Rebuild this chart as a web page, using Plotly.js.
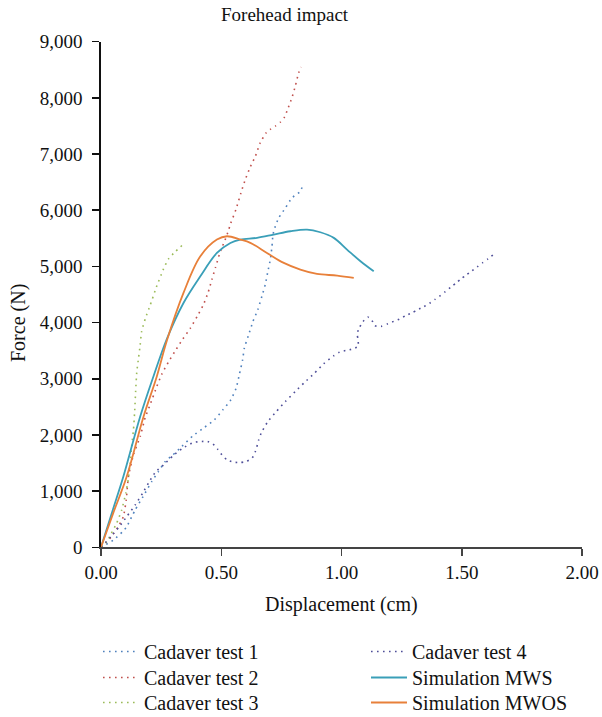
<!DOCTYPE html>
<html>
<head>
<meta charset="utf-8">
<script src="https://cdn.plot.ly/plotly-3.0.1.min.js"></script>
<style>html,body{margin:0;padding:0;background:#fff;}#chart{width:602px;height:717px;}</style>
</head>
<body>
<div id="chart"></div>
<script>
const seriesNames = ["Cadaver test 1","Cadaver test 2","Cadaver test 3","Cadaver test 4","Simulation MWS","Simulation MWOS"];

const test1X = [0, 0.052, 0.090, 0.107, 0.142, 0.183, 0.211, 0.239, 0.267, 0.299, 0.336, 0.382, 0.426, 0.471, 0.507, 0.540, 0.562, 0.575, 0.589, 0.596, 0.614, 0.632, 0.652, 0.669, 0.683, 0.694, 0.704, 0.711, 0.715, 0.725, 0.739, 0.767, 0.794, 0.825, 0.839];
const test1Y = [0, 130, 278, 367, 665, 962, 1170, 1348, 1526, 1645, 1794, 1984, 2121, 2269, 2447, 2626, 2834, 3071, 3339, 3547, 3784, 4022, 4230, 4467, 4676, 4913, 5121, 5359, 5567, 5716, 5864, 6042, 6221, 6321, 6428];

const test2X = [0, 0.024, 0.043, 0.071, 0.093, 0.105, 0.114, 0.135, 0.163, 0.183, 0.204, 0.232, 0.253, 0.281, 0.310, 0.340, 0.371, 0.400, 0.426, 0.446, 0.461, 0.476, 0.492, 0.502, 0.515, 0.527, 0.540, 0.561, 0.582, 0.600, 0.621, 0.642, 0.662, 0.687, 0.704, 0.725, 0.746, 0.764, 0.776, 0.794, 0.808, 0.822, 0.832];
const test2Y = [0, 98, 190, 362, 546, 850, 1259, 1650, 1972, 2298, 2536, 2863, 3083, 3303, 3505, 3707, 3897, 4111, 4319, 4545, 4765, 4979, 5210, 5330, 5460, 5600, 5775, 6012, 6310, 6547, 6773, 6963, 7201, 7380, 7439, 7498, 7569, 7665, 7795, 8003, 8211, 8449, 8549];

const test3X = [0, 0.024, 0.043, 0.065, 0.086, 0.103, 0.114, 0.121, 0.128, 0.135, 0.140, 0.144, 0.149, 0.156, 0.163, 0.169, 0.185, 0.204, 0.229, 0.260, 0.280, 0.308, 0.330, 0.345];
const test3Y = [0, 98, 249, 427, 665, 962, 1230, 1497, 1823, 2090, 2417, 2774, 3131, 3368, 3606, 3844, 4080, 4301, 4616, 4955, 5130, 5260, 5345, 5410];

const test4X = [0, 0.041, 0.076, 0.107, 0.142, 0.173, 0.201, 0.228, 0.260, 0.299, 0.340, 0.385, 0.413, 0.443, 0.465, 0.485, 0.503, 0.524, 0.551, 0.579, 0.604, 0.628, 0.642, 0.656, 0.666, 0.694, 0.729, 0.767, 0.808, 0.846, 0.888, 0.926, 0.968, 0.992, 1.019, 1.046, 1.069, 1.069, 1.065, 1.075, 1.089, 1.109, 1.125, 1.138, 1.165, 1.190, 1.217, 1.242, 1.266, 1.292, 1.317, 1.342, 1.366, 1.387, 1.411, 1.432, 1.454, 1.477, 1.497, 1.519, 1.542, 1.564, 1.586, 1.609, 1.630];
const test4Y = [0, 190, 367, 546, 754, 962, 1170, 1348, 1467, 1627, 1765, 1865, 1883, 1883, 1841, 1747, 1645, 1556, 1515, 1509, 1527, 1586, 1705, 1913, 2032, 2240, 2417, 2596, 2774, 2934, 3101, 3267, 3410, 3475, 3505, 3529, 3576, 3695, 3802, 3915, 4016, 4100, 4052, 3945, 3933, 3974, 4022, 4064, 4123, 4171, 4230, 4283, 4343, 4408, 4480, 4551, 4628, 4706, 4777, 4848, 4920, 4991, 5062, 5134, 5205];

const mwsX = [0, 0.050, 0.093, 0.163, 0.218, 0.274, 0.343, 0.413, 0.482, 0.538, 0.579, 0.649, 0.718, 0.787, 0.857, 0.912, 0.968, 1.023, 1.079, 1.134];
const mwsY = [0, 677, 1259, 2328, 3041, 3712, 4349, 4824, 5240, 5418, 5478, 5508, 5567, 5626, 5656, 5608, 5508, 5300, 5092, 4913];

const mwosX = [0, 0.050, 0.107, 0.177, 0.232, 0.274, 0.343, 0.413, 0.482, 0.524, 0.579, 0.621, 0.690, 0.760, 0.829, 0.898, 0.982, 1.051];
const mwosY = [0, 600, 1259, 2328, 3041, 3680, 4528, 5180, 5478, 5537, 5478, 5419, 5240, 5062, 4943, 4866, 4836, 4795];

const xTickVals = [0, 0.5, 1, 1.5, 2];
const xTickText = ["0.00", "0.50", "1.00", "1.50", "2.00"];
const yTickVals = [0, 1000, 2000, 3000, 4000, 5000, 6000, 7000, 8000, 9000];
const yTickText = ["0", "1,000", "2,000", "3,000", "4,000", "5,000", "6,000", "7,000", "8,000", "9,000"];

const FONT = '"Liberation Serif", "DejaVu Serif", serif';
const DOT = "1.6px,4.4px";
const W = 602, H = 717;

function dotted(x, y, name, color, leg) {
  return {x: x, y: y, name: name, type: 'scatter', mode: 'lines', legend: leg,
    line: {color: color, width: 1.6, dash: DOT, shape: 'spline', smoothing: 0.5}};
}
function solid(x, y, name, color, leg) {
  return {x: x, y: y, name: name, type: 'scatter', mode: 'lines', legend: leg,
    line: {color: color, width: 1.8, shape: 'spline', smoothing: 1}};
}

const data = [
  dotted(test1X, test1Y, seriesNames[0], '#4F81BD', 'legend'),
  dotted(test2X, test2Y, seriesNames[1], '#C0504D', 'legend2'),
  dotted(test3X, test3Y, seriesNames[2], '#9BBB59', 'legend3'),
  dotted(test4X, test4Y, seriesNames[3], '#4F4F99', 'legend4'),
  solid(mwsX, mwsY, seriesNames[4], '#3A9FB8', 'legend5'),
  solid(mwosX, mwosY, seriesNames[5], '#E8803A', 'legend6')
];

function leg(px, rowCenter) {
  return {xanchor: 'left', yanchor: 'top', x: px / W, y: (H - (rowCenter - 20)) / H,
    itemwidth: 36, bgcolor: 'rgba(0,0,0,0)', font: {family: FONT, size: 20, color: '#111'}};
}

const layout = {
  width: W, height: H,
  margin: {l: 0, r: 0, t: 0, b: 0, autoexpand: false},
  paper_bgcolor: '#fff', plot_bgcolor: '#fff',
  font: {family: FONT, size: 19, color: '#111'},
  showlegend: true,
  legend: leg(98, 652), legend2: leg(98, 678), legend3: leg(98, 703),
  legend4: leg(366, 652), legend5: leg(366, 678), legend6: leg(366, 703),
  xaxis: {domain: [101 / W, 582 / W], range: [0, 2], tickvals: xTickVals, ticktext: xTickText,
    showgrid: false, zeroline: false, automargin: false,
    showline: true, linecolor: '#444', linewidth: 2, ticks: 'outside', ticklen: 7, tickwidth: 1.5, tickcolor: '#444',
    ticklabelstandoff: 0,
    tickfont: {family: FONT, size: 19, color: '#111'}},
  yaxis: {domain: [(H - 547.3) / H, (H - 41.7) / H], range: [0, 9000], tickvals: yTickVals, ticktext: yTickText,
    showgrid: false, zeroline: false, automargin: false,
    showline: true, linecolor: '#111', linewidth: 1.6, ticks: 'outside', ticklen: 7, tickwidth: 1.5, tickcolor: '#111',
    ticklabelstandoff: 6,
    tickfont: {family: FONT, size: 19, color: '#111'}},
  annotations: [
    {text: 'Forehead impact', xref: 'paper', yref: 'paper', x: 284.7 / W, y: (H - 14.5) / H,
      xanchor: 'center', yanchor: 'middle', showarrow: false, font: {family: FONT, size: 19, color: '#111'}},
    {text: 'Displacement (cm)', xref: 'paper', yref: 'paper', x: 341.5 / W, y: (H - 604) / H,
      xanchor: 'center', yanchor: 'middle', showarrow: false, font: {family: FONT, size: 20, color: '#111'}},
    {text: 'Force (N)', xref: 'paper', yref: 'paper', x: 18 / W, y: (H - 323) / H, textangle: -90,
      xanchor: 'center', yanchor: 'middle', showarrow: false, font: {family: FONT, size: 20, color: '#111'}}
  ],
  hovermode: false
};

Plotly.newPlot('chart', data, layout, {displayModeBar: false, staticPlot: true});
</script>
</body>
</html>
